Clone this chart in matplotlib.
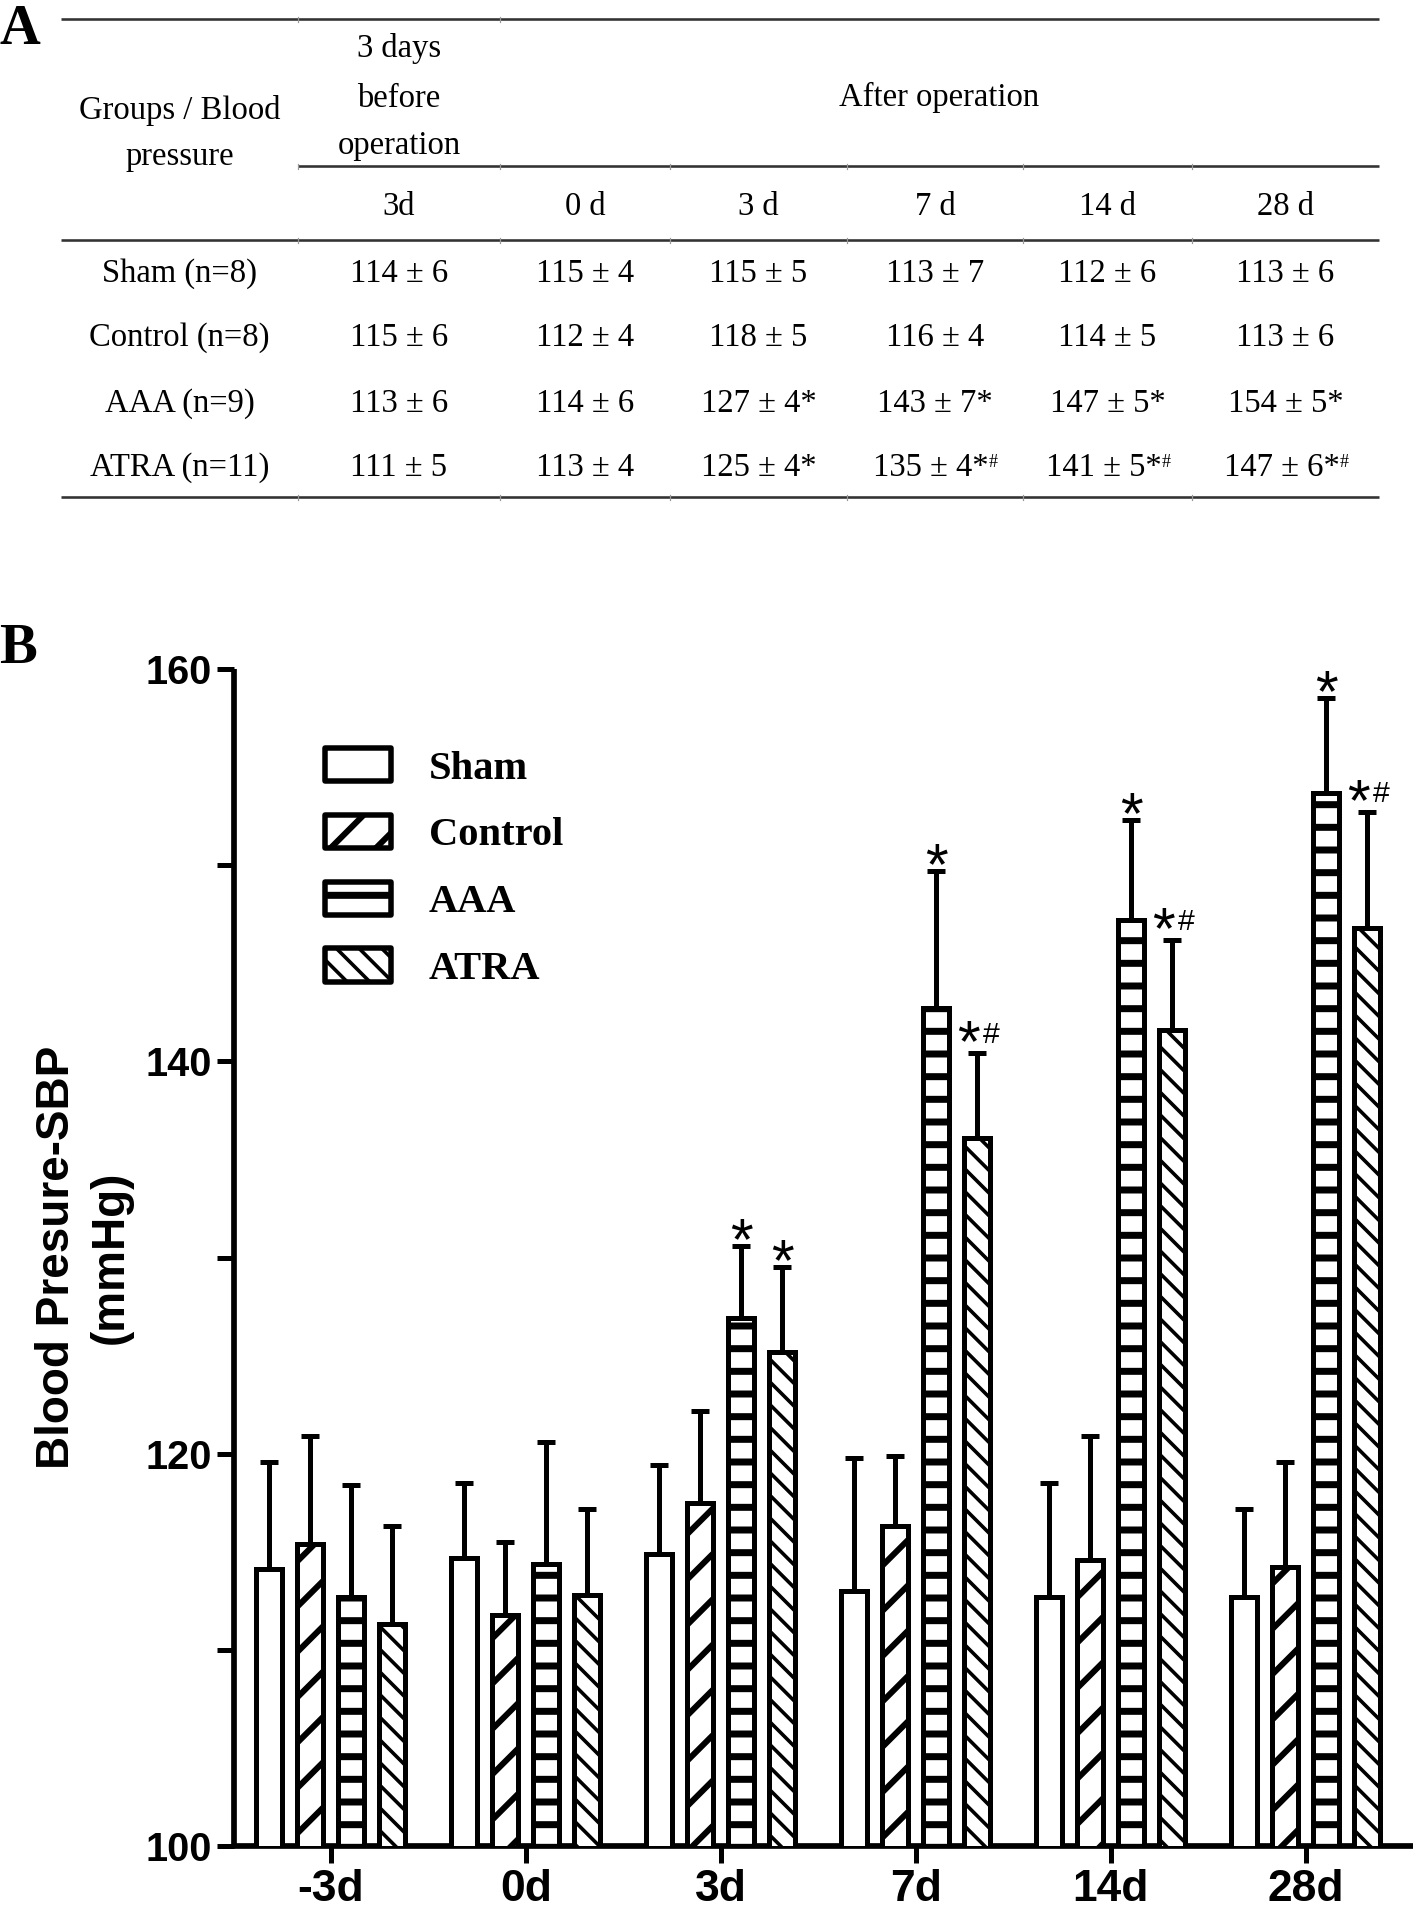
import matplotlib
matplotlib.use('Agg')
import matplotlib.pyplot as plt
import numpy as np
from matplotlib.font_manager import FontProperties

DPI = 136
W, H = 1418, 1915
PT = 72.0 / DPI  # points per pixel

# ---------------- data ----------------
days = ['-3d', '0d', '3d', '7d', '14d', '28d']
groups = ['Sham', 'Control', 'AAA', 'ATRA']
sham_mean = [114.1, 114.7, 114.9, 113.0, 112.7, 112.7]
control_mean = [115.4, 111.8, 117.5, 116.3, 114.6, 114.2]
aaa_mean = [112.7, 114.4, 126.9, 142.7, 147.2, 153.7]
atra_mean = [111.3, 112.8, 125.2, 136.1, 141.6, 146.8]
sham_sd = [5.5, 3.8, 4.5, 6.8, 5.8, 4.5]
control_sd = [5.5, 3.7, 4.7, 3.6, 6.3, 5.4]
aaa_sd = [5.7, 6.2, 3.7, 7.0, 5.1, 4.8]
atra_sd = [5.0, 4.4, 4.3, 4.3, 4.6, 5.9]
sham_marks = ['', '', '', '', '', '']
control_marks = ['', '', '', '', '', '']
aaa_marks = ['', '', '*', '*', '*', '*']
atra_marks = ['', '', '*', '*#', '*#', '*#']

# table (panel A)
table_row_labels = ['Sham (n=8)', 'Control (n=8)', 'AAA (n=9)', 'ATRA (n=11)']
table_col_labels = ['3d', '0 d', '3 d', '7 d', '14 d', '28 d']
tab_sham_mean = [114, 115, 115, 113, 112, 113]
tab_sham_sd = [6, 4, 5, 7, 6, 6]
tab_control_mean = [115, 112, 118, 116, 114, 113]
tab_control_sd = [6, 4, 5, 4, 5, 6]
tab_aaa_mean = [113, 114, 127, 143, 147, 154]
tab_aaa_sd = [6, 6, 4, 7, 5, 5]
tab_atra_mean = [111, 113, 125, 135, 141, 147]
tab_atra_sd = [5, 4, 4, 4, 5, 6]
tab_sham_marks = ['', '', '', '', '', '']
tab_control_marks = ['', '', '', '', '', '']
tab_aaa_marks = ['', '', '*', '*', '*', '*']
tab_atra_marks = ['', '', '*', '*#', '*#', '*#']

# ---------------- figure ----------------
fig = plt.figure(figsize=(W / DPI, H / DPI), dpi=DPI)
fig.patch.set_facecolor('white')

# full-figure overlay in pixel coordinates for the table and panel letters
tax = fig.add_axes([0, 0, 1, 1], zorder=0)
tax.set_xlim(0, W)
tax.set_ylim(H, 0)
tax.axis('off')

serif = 'Liberation Serif'
sans = 'Liberation Sans'
tab_fs = 17.3

# panel letters
tax.text(-1, 44, 'A', family=serif, weight='bold', fontsize=30, ha='left', va='baseline')
tax.text(-1, 663, 'B', family=serif, weight='bold', fontsize=30, ha='left', va='baseline')

# table rules
rule_kw = dict(color='#333333', lw=2.6 * PT, solid_capstyle='butt')
tab_left, tab_right = 61, 1379
col_borders = [298, 500, 670, 847, 1023, 1192, 1379]
tax.plot([tab_left, tab_right], [19, 19], **rule_kw)
tax.plot([298, tab_right], [166, 166], **rule_kw)
tax.plot([tab_left, tab_right], [240, 240], **rule_kw)
tax.plot([tab_left, tab_right], [497, 497], **rule_kw)
for yl, borders in [(19, col_borders[:2]), (166, col_borders[:6]),
                    (240, col_borders[:6]), (497, col_borders[:6])]:
    for xb in borders:
        tax.plot([xb, xb], [yl - 2, yl + 3], color='#999999', lw=1.2 * PT)

col_centers = [(col_borders[i] + col_borders[i + 1]) / 2 for i in range(6)]
row_label_x = (tab_left + 298) / 2

# header
for txt, yy in [('3 days', 48), ('before', 99), ('operation', 146)]:
    tax.text(col_centers[0], yy, txt, family=serif, fontsize=tab_fs, ha='center', va='center')
tax.text(939, 97, 'After operation', family=serif, fontsize=tab_fs, ha='center', va='center')
tax.text(row_label_x, 110, 'Groups / Blood', family=serif, fontsize=tab_fs, ha='center', va='center')
tax.text(row_label_x, 157, 'pressure', family=serif, fontsize=tab_fs, ha='center', va='center')
for cx, lab in zip(col_centers, table_col_labels):
    tax.text(cx, 207, lab, family=serif, fontsize=tab_fs, ha='center', va='center')

tab_rows = [(tab_sham_mean, tab_sham_sd, tab_sham_marks),
            (tab_control_mean, tab_control_sd, tab_control_marks),
            (tab_aaa_mean, tab_aaa_sd, tab_aaa_marks),
            (tab_atra_mean, tab_atra_sd, tab_atra_marks)]
row_ys = [274, 338, 404, 468]
for ry, rlab, (means, sds, marks) in zip(row_ys, table_row_labels, tab_rows):
    tax.text(row_label_x, ry, rlab, family=serif, fontsize=tab_fs, ha='center', va='center')
    for cx, m, s, mk in zip(col_centers, means, sds, marks):
        star = '*' if '*' in mk else ''
        shift = -4 if '#' in mk else 0
        t = tax.text(cx + shift, ry, f'{m} \u00b1 {s}{star}', family=serif,
                     fontsize=tab_fs, ha='center', va='center')
        if '#' in mk:
            tax.annotate('#', xy=(1.0, 0.95), xycoords=t, family=serif,
                         fontsize=tab_fs * 0.55, ha='left', va='top')

# ---------------- bar chart (panel B) ----------------
ax_left, ax_right, ax_top, ax_bottom = 234, 1413, 669, 1846
ax = fig.add_axes([ax_left / W, 1 - ax_bottom / H, (ax_right - ax_left) / W,
                   (ax_bottom - ax_top) / H], zorder=2)
ax.patch.set_alpha(0)

x = np.arange(len(days))
offsets = np.array([-1.5, -0.5, 0.5, 1.5]) * (41 / 195)
bar_w = 26 / 195
means_all = [sham_mean, control_mean, aaa_mean, atra_mean]
sds_all = [sham_sd, control_sd, aaa_sd, atra_sd]
marks_all = [sham_marks, control_marks, aaa_marks, atra_marks]
hatches = ['', '/', '-', '\\\\']
hatch_lw_px = [1.0, 6.0, 7.0, 3.6]

edge_lw = 5.0 * PT
for i, g in enumerate(groups):
    hlw = hatch_lw_px[i] * PT
    with plt.rc_context({'hatch.linewidth': hlw, 'hatch.color': 'black'}):
        bars = ax.bar(x + offsets[i], means_all[i], bar_w, color='white',
                      edgecolor='black', linewidth=edge_lw, hatch=hatches[i],
                      label=g, zorder=3)
    for b in bars:
        if hasattr(b, 'set_hatch_linewidth'):
            b.set_hatch_linewidth(hlw)
    ax.errorbar(x + offsets[i], means_all[i],
                yerr=[np.zeros(len(days)), sds_all[i]], fmt='none',
                ecolor='black', elinewidth=edge_lw, capsize=9 * PT,
                capthick=edge_lw, zorder=2)

# significance marks
star_fs = 31
hash_fs = 16
for i in range(len(groups)):
    for xi, m, s, mk in zip(x, means_all[i], sds_all[i], marks_all[i]):
        if not mk:
            continue
        xc = xi + offsets[i]
        top = m + s
        if mk == '*':
            ax.annotate('*', xy=(xc, top), xytext=(0, -13 * PT), textcoords='offset points',
                        family=sans, fontsize=star_fs, ha='center', va='baseline')
        else:
            ax.annotate('*', xy=(xc, top), xytext=(2 * PT, -8 * PT), textcoords='offset points',
                        family=sans, fontsize=star_fs, ha='right', va='baseline')
            ax.annotate('#', xy=(xc, top), xytext=(5 * PT, 10 * PT), textcoords='offset points',
                        family=sans, fontsize=hash_fs, ha='left', va='baseline')

ax.set_xlim(-0.497, 5.549)
ax.set_ylim(100, 160)
ax.set_xticks(x)
ax.set_xticklabels(days)
ax.set_yticks([100, 120, 140, 160])
ax.set_yticks([110, 130, 150], minor=True)
for sp in ['top', 'right']:
    ax.spines[sp].set_visible(False)
for sp in ['left', 'bottom']:
    ax.spines[sp].set_linewidth(5.7 * PT)
    ax.spines[sp].set_capstyle('butt')
ax.tick_params(axis='both', which='both', direction='out', length=17 * PT,
               width=5 * PT, color='black')
ax.tick_params(axis='y', which='both', pad=5 * PT)
ax.tick_params(axis='x', pad=6 * PT)
for lab in ax.get_yticklabels():
    lab.set_fontproperties(FontProperties(family=sans, weight='bold', size=21))
for lab in ax.get_xticklabels():
    lab.set_fontproperties(FontProperties(family=sans, weight='bold', size=23.5))

ax.set_ylabel('Blood Presure-SBP\n(mmHg)', family=sans, weight='bold',
              fontsize=24.3, linespacing=1.3)
ax.yaxis.set_label_coords((84 - ax_left) / (ax_right - ax_left), 0.5)
ax.yaxis.label.set_va('center')

leg_fs_px = 40.5
leg = ax.legend(loc='upper left',
                bbox_to_anchor=((325 - ax_left) / (ax_right - ax_left),
                                (ax_bottom - 748) / (ax_bottom - ax_top)),
                frameon=False,
                prop=FontProperties(family=serif, weight='bold', size=leg_fs_px * PT),
                handlelength=66 / leg_fs_px, handleheight=36 / leg_fs_px,
                handletextpad=38 / leg_fs_px, labelspacing=0.67,
                borderpad=0, borderaxespad=0)
for h, hpx in zip(leg.get_patches(), hatch_lw_px):
    h.set_linewidth(5.5 * PT)
    h.set_joinstyle('round')
    if hasattr(h, 'set_hatch_linewidth'):
        h.set_hatch_linewidth(hpx * PT)

fig.savefig('out.png', dpi=DPI, facecolor='white')
